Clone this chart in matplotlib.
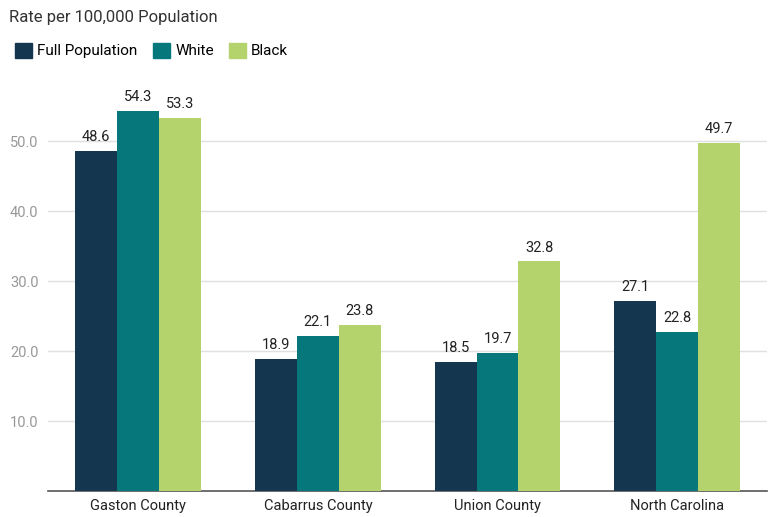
import matplotlib

matplotlib.use("Agg")
import matplotlib.pyplot as plt
from matplotlib.patches import Patch
import numpy as np

plt.rcParams["font.family"] = ["Roboto", "DejaVu Sans"]

regions = ["Gaston County", "Cabarrus County", "Union County", "North Carolina"]
full_pop = [48.6, 18.9, 18.5, 27.1]
white = [54.3, 22.1, 19.7, 22.8]
black = [53.3, 23.8, 32.8, 49.7]
series_labels = ["Full Population", "White", "Black"]
yticks = [10, 20, 30, 40, 50]

colors = ["#14374f", "#06777a", "#b4d36d"]

fig = plt.figure(figsize=(7.78, 5.17), dpi=100)
ax = fig.add_axes([0.062, 0.05, 0.924, 0.795])

x = np.arange(len(regions))
w = 0.233
for i, (vals, col) in enumerate(zip([full_pop, white, black], colors)):
    pos = x + (i - 1) * w
    bars = ax.bar(pos, vals, width=w, color=col, zorder=3)
    for b, v in zip(bars, vals):
        ax.annotate(f"{v:.1f}", (b.get_x() + b.get_width() / 2, v),
                    xytext=(0, 5), textcoords="offset points",
                    ha="center", va="bottom", fontsize=10.5, color="#222222")

ax.set_xlim(-0.5, 3.5)
ax.set_ylim(0, 58.7)
ax.set_yticks(yticks)
ax.set_yticklabels([f"{t:.1f}" for t in yticks], color="#999999", fontsize=10.5)
ax.set_xticks(x)
ax.set_xticklabels(regions, fontsize=10.5, color="#222222")
ax.tick_params(length=0, pad=7)
ax.tick_params(axis="x", pad=6)
ax.grid(axis="y", color="#e0e0e0", linewidth=1, zorder=0)
for s in ["top", "right", "left"]:
    ax.spines[s].set_visible(False)
ax.spines["bottom"].set_color("#555555")
ax.spines["bottom"].set_linewidth(1.2)

fig.text(0.012, 0.967, "Rate per 100,000 Population", fontsize=12, color="#333333", va="center")
handles = [Patch(color=c) for c in colors]
fig.legend(handles, series_labels, loc="center left", bbox_to_anchor=(0.002, 0.902),
           ncol=3, frameon=False, fontsize=11, handlelength=1.1, handleheight=1.1,
           handletextpad=0.35, columnspacing=1.0)

fig.savefig("out.png", dpi=100)
plt.close(fig)
